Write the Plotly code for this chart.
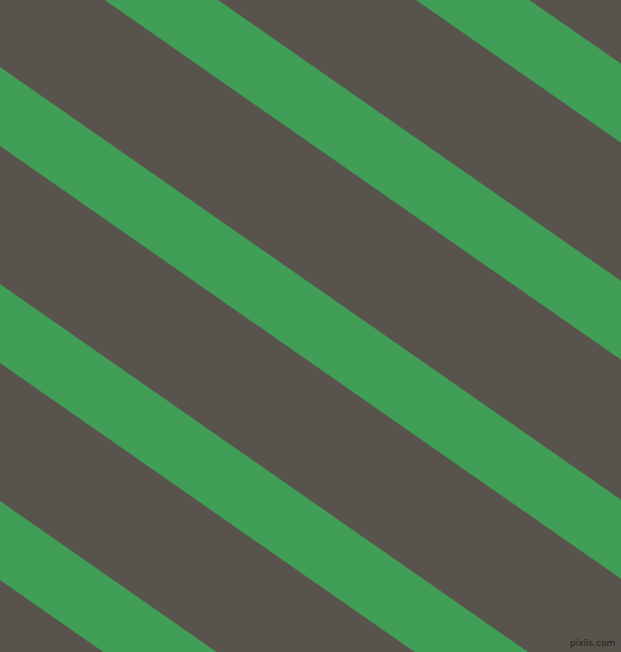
import plotly.graph_objects as go

# Stripe pattern (pixel space, y grows downward)
canvas_w = 621
canvas_h = 652
stripe_slope = 0.697                            # dy/dx of every stripe edge
stripe_offsets = [-369, -152, 67, 284, 501]     # y of the upper edge at x=0
stripe_height = 79                              # vertical thickness of a stripe

bg_color = "#58534c"
stripe_color = "#419e57"

fig = go.Figure()

x_ends = [-50, canvas_w + 50]
for c in stripe_offsets:
    upper = [stripe_slope * x + c for x in x_ends]
    lower = [y + stripe_height for y in upper]
    fig.add_trace(go.Scatter(
        x=x_ends + x_ends[::-1] + [x_ends[0]],
        y=upper + lower[::-1] + [upper[0]],
        mode="lines", fill="toself", fillcolor=stripe_color,
        line=dict(width=0, color=stripe_color),
        hoverinfo="skip", showlegend=False,
    ))

# small watermark, bottom right
fig.add_annotation(
    x=canvas_w - 4, y=canvas_h - 9, xref="x", yref="y",
    text="pixiis.com", showarrow=False, xanchor="right", yanchor="middle",
    font=dict(family="DejaVu Sans", size=9, color="#1a241a"),
)

fig.update_xaxes(range=[0, canvas_w], visible=False, fixedrange=True)
fig.update_yaxes(range=[canvas_h, 0], visible=False, fixedrange=True)
fig.update_layout(
    width=canvas_w, height=canvas_h,
    margin=dict(l=0, r=0, t=0, b=0),
    paper_bgcolor=bg_color, plot_bgcolor=bg_color,
)

fig.write_html("out.html", config={"displayModeBar": False},
               post_script="document.body.style.margin='0';")
